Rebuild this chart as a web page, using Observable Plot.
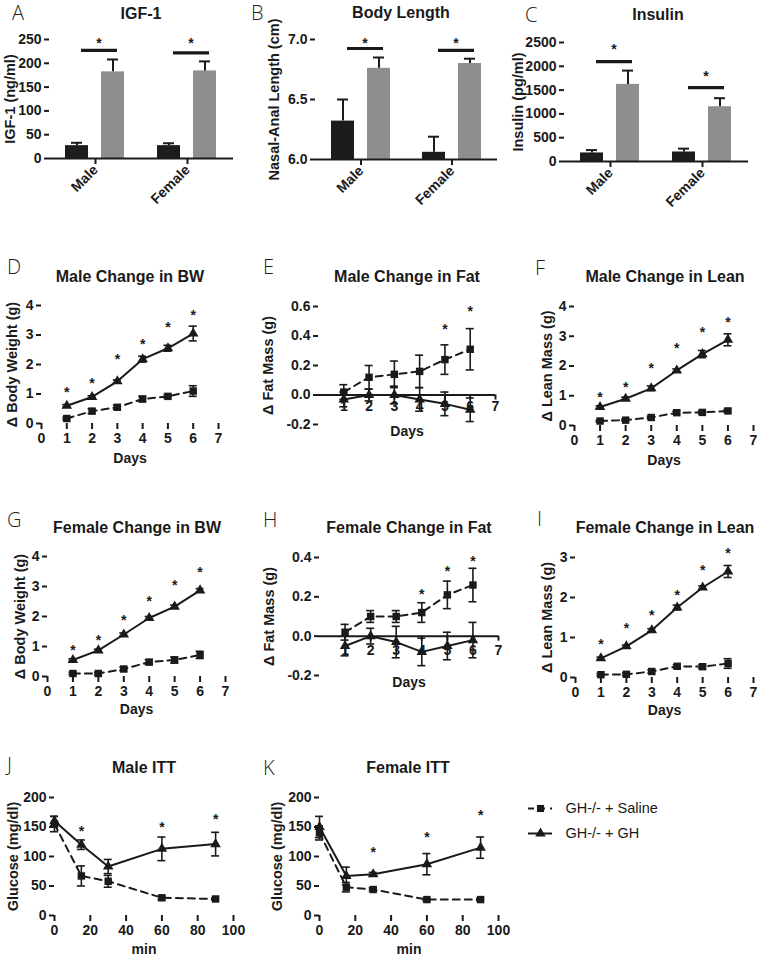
<!DOCTYPE html>
<html><head><meta charset="utf-8">
<script src="https://cdn.jsdelivr.net/npm/d3@7"></script>
<script src="https://cdn.jsdelivr.net/npm/@observablehq/plot@0.6"></script>
<style>
body{margin:0;background:#fff;}
#fig{position:relative;width:758px;height:960px;overflow:hidden;font-family:"Liberation Sans",Arial,sans-serif;color:#1a1a1a;background:#fff;}
.title{position:absolute;width:240px;text-align:center;font-weight:bold;font-size:16px;line-height:18px;white-space:nowrap;}
.letter{position:absolute;font-family:"Open Sans",sans-serif;font-weight:300;font-size:20px;line-height:18px;color:#222;}
</style></head><body><div id="fig"></div>
<script>
// ---------- categories ----------
const sexes = ["Male", "Female"];
const treatments = ["GH-/- + Saline", "GH-/- + GH"];
const barSex = ["Male", "Male", "Female", "Female"];
const barTreatment = [treatments[0], treatments[1], treatments[0], treatments[1]];

// ---------- A: IGF-1 ----------
const igf1Mean = [27, 182, 27, 184];
const igf1Sem = [6, 26, 5, 20];
const igf1SigLevel = [227, 222];
const igf1StarLevel = [258, 254];
const igf1Ticks = [0, 50, 100, 150, 200, 250];

// ---------- B: Body length ----------
const lengthMean = [6.32, 6.76, 6.06, 6.80];
const lengthSem = [0.18, 0.09, 0.13, 0.04];
const lengthSigLevel = [6.925, 6.91];
const lengthStarLevel = [7.05, 7.03];
const lengthTicks = [6.0, 6.5, 7.0];

// ---------- C: Insulin ----------
const insulinMean = [180, 1620, 200, 1150];
const insulinSem = [60, 290, 70, 180];
const insulinSigLevel = [2100, 1550];
const insulinStarLevel = [2440, 1870];
const insulinTicks = [0, 500, 1000, 1500, 2000, 2500];

// ---------- D-I: daily changes ----------
const days = [1, 2, 3, 4, 5, 6];
const dayTicks = [0, 1, 2, 3, 4, 5, 6, 7];
const dayTicksZero = [1, 2, 3, 4, 5, 6, 7];

const maleBWSaline = [0.17, 0.42, 0.55, 0.83, 0.92, 1.10];
const maleBWSalineErr = [0.04, 0.08, 0.07, 0.09, 0.06, 0.18];
const maleBWGH = [0.60, 0.90, 1.43, 2.18, 2.55, 3.05];
const maleBWGHErr = [0.04, 0.04, 0.05, 0.10, 0.10, 0.25];
const maleBWStars = [1.20, 1.50, 2.30, 2.82, 3.38, 3.80];

const maleFatSaline = [0.02, 0.12, 0.14, 0.16, 0.24, 0.31];
const maleFatSalineErr = [0.05, 0.08, 0.09, 0.11, 0.10, 0.14];
const maleFatGH = [-0.03, 0.00, 0.00, -0.03, -0.06, -0.10];
const maleFatGHErr = [0.05, 0.04, 0.06, 0.08, 0.08, 0.08];
const maleFatStars = [null, null, null, null, 0.47, 0.59];

const maleLeanSaline = [0.15, 0.18, 0.27, 0.43, 0.44, 0.49];
const maleLeanSalineErr = [0.03, 0.03, 0.04, 0.05, 0.05, 0.05];
const maleLeanGH = [0.62, 0.90, 1.25, 1.85, 2.40, 2.88];
const maleLeanGHErr = [0.04, 0.05, 0.08, 0.05, 0.12, 0.20];
const maleLeanStars = [1.08, 1.41, 2.05, 2.72, 3.26, 3.60];

const femBWSaline = [0.10, 0.10, 0.25, 0.48, 0.55, 0.72];
const femBWSalineErr = [0.04, 0.04, 0.06, 0.08, 0.10, 0.12];
const femBWGH = [0.55, 0.87, 1.40, 1.95, 2.33, 2.87];
const femBWGHErr = [0.04, 0.04, 0.05, 0.05, 0.05, 0.06];
const femBWStars = [1.00, 1.33, 2.00, 2.63, 3.17, 3.60];

const femFatSaline = [0.02, 0.10, 0.10, 0.12, 0.21, 0.26];
const femFatSalineErr = [0.04, 0.03, 0.03, 0.05, 0.07, 0.085];
const femFatGH = [-0.05, 0.00, -0.03, -0.08, -0.05, -0.02];
const femFatGHErr = [0.05, 0.04, 0.08, 0.07, 0.07, 0.09];
const femFatStars = [null, null, null, 0.23, 0.35, 0.40];

const femLeanSaline = [0.07, 0.08, 0.15, 0.28, 0.27, 0.35];
const femLeanSalineErr = [0.03, 0.03, 0.04, 0.04, 0.05, 0.12];
const femLeanGH = [0.48, 0.78, 1.18, 1.75, 2.25, 2.65];
const femLeanGHErr = [0.03, 0.03, 0.04, 0.06, 0.04, 0.15];
const femLeanStars = [0.93, 1.33, 1.65, 2.15, 2.78, 3.20];

// ---------- J-K: ITT ----------
const minutes = [0, 15, 30, 60, 90];
const minTicks = [0, 20, 40, 60, 80, 100];
const glucoseTicks = [0, 50, 100, 150, 200];
const maleITTSaline = [155, 67, 58, 30, 28];
const maleITTSalineErr = [13, 17, 10, 3, 2];
const maleITTGH = [160, 120, 83, 113, 121];
const maleITTGHErr = [8, 8, 12, 20, 20];
const maleITTStars = [null, 149, null, 156, 169];

const femITTSaline = [140, 48, 44, 27, 27];
const femITTSalineErr = [12, 8, 3, 2, 2];
const femITTGH = [150, 67, 70, 87, 115];
const femITTGHErr = [18, 15, 3, 18, 18];
const femITTStars = [null, null, 113, 139, 176];

// ---------- rendering ----------
const fig = document.getElementById("fig");
const ink = "#1a1a1a";
const baseStyle = {fontFamily: '"Liberation Sans", Arial, sans-serif', fontSize: "14px", fontWeight: "bold", color: ink, background: "transparent", overflow: "visible"};
const fmt1 = d => d.toFixed(1);
const fmt0 = d => String(d);

function place(el, left, top) {
  el.style.position = "absolute";
  el.style.left = left + "px";
  el.style.top = top + "px";
  fig.appendChild(el);
}
function addText(cls, txt, left, top) {
  const d = document.createElement("div");
  d.className = cls; d.textContent = txt;
  d.style.left = left + "px"; d.style.top = top + "px";
  fig.appendChild(d);
}

function barPlot(c) {
  const rows = barSex.map((s, i) => ({sex: s, trt: barTreatment[i], mean: c.mean[i], sem: c.sem[i]}));
  const sig = sexes.map((s, i) => ({sex: s, level: c.sig[i], star: c.star[i], a: treatments[0], b: treatments[1]}));
  return Plot.plot({
    width: c.w, height: 210,
    marginLeft: c.m[0], marginRight: c.m[1], marginTop: c.m[2], marginBottom: c.m[3],
    style: baseStyle,
    fx: {domain: sexes, padding: 0, label: null},
    x: {domain: treatments, paddingInner: 0.35, paddingOuter: 0.42, axis: null},
    y: {domain: c.domain, clamp: true, axis: null},
    color: {domain: treatments, range: ["#1c1c1c", "#8e8e8e"]},
    marks: [
      Plot.barY(rows, {fx: "sex", x: "trt", y1: c.domain[0], y2: "mean", fill: "trt"}),
      Plot.ruleX(rows, {fx: "sex", x: "trt", y1: "mean", y2: d => d.mean + d.sem, stroke: ink, strokeWidth: 2}),
      Plot.tickY(rows, {fx: "sex", x: "trt", y: d => d.mean + d.sem, insetLeft: 6, insetRight: 6, stroke: ink, strokeWidth: 2}),
      Plot.link(sig, {fx: "sex", x1: "a", x2: "b", y1: "level", y2: "level", stroke: ink, strokeWidth: 3.2, dx: 4}),
      Plot.text(sig, {fx: "sex", x: "a", y: "star", text: () => "*", dx: 22, dy: 4, fontSize: 14}),
      Plot.ruleY([c.domain[0]], {stroke: ink, strokeWidth: 2}),
      Plot.axisY({ticks: c.ticks, tickFormat: c.fmt, tickSize: 5, tickPadding: 3, stroke: ink, strokeWidth: 2, line: true, label: null}),
      Plot.text([c.label], {fx: () => sexes[0], frameAnchor: "left", textAnchor: "middle", rotate: -90, dx: -c.labelDx, text: d => d, fontSize: 14.5}),
      Plot.axisFx({anchor: "bottom", tickSize: 6, tickPadding: 3, tickRotate: -45, stroke: ink, strokeWidth: 2, label: null})
    ]
  });
}

function linePlot(c) {
  const sal = c.x.map((x, i) => ({x, v: c.sal[i], e: c.salErr[i]}));
  const gh = c.x.map((x, i) => ({x, v: c.gh[i], e: c.ghErr[i]}));
  const all = sal.concat(gh);
  const stars = c.x.map((x, i) => ({x, y: c.stars[i]})).filter(d => d.y != null);
  const marks = [
    Plot.axisY({ticks: c.yTicks, tickFormat: c.yFmt, tickSize: 5, tickPadding: 3, stroke: ink, strokeWidth: 2, line: true, label: null}),
    Plot.text([c.yLabel], {frameAnchor: "left", textAnchor: "middle", rotate: -90, dx: -c.yLabelDx, text: d => d, fontSize: 14.5})
  ];
  if (c.zeroAxis) {
    marks.push(
      Plot.ruleY([0], {stroke: ink, strokeWidth: 2}),
      Plot.ruleX(c.xTicks, {x: d => d, y1: 0, y2: 0, insetBottom: -5, stroke: ink, strokeWidth: 2}),
      Plot.text(c.xTicks, {x: d => d, y: 0, text: d => String(d), dy: c.zeroLabelDy}),
      Plot.text([c.xLabel], {frameAnchor: "bottom", text: d => d, dy: c.xLabelDy})
    );
  } else {
    marks.push(
      Plot.axisX({ticks: c.xTicks, tickFormat: fmt0, tickSize: 6, tickPadding: 4, stroke: ink, strokeWidth: 2, line: true, label: null}),
      Plot.text([c.xLabel], {frameAnchor: "bottom", text: d => d, dy: c.xLabelDy})
    );
  }
  marks.push(
    Plot.ruleX(all, {x: "x", y1: d => d.v - d.e, y2: d => d.v + d.e, stroke: ink, strokeWidth: 1.6}),
    Plot.ruleY(all, {x1: "x", x2: "x", y: d => d.v + d.e, insetLeft: -4, insetRight: -4, stroke: ink, strokeWidth: 1.6}),
    Plot.ruleY(all, {x1: "x", x2: "x", y: d => d.v - d.e, insetLeft: -4, insetRight: -4, stroke: ink, strokeWidth: 1.6}),
    Plot.line(sal, {x: "x", y: "v", stroke: ink, strokeWidth: 2, strokeDasharray: "7,5"}),
    Plot.line(gh, {x: "x", y: "v", stroke: ink, strokeWidth: 2}),
    Plot.dot(sal, {x: "x", y: "v", symbol: "square", r: 4.2, fill: ink}),
    Plot.dot(gh, {x: "x", y: "v", symbol: "triangle", r: 3.9, fill: ink}),
    Plot.text(stars, {x: "x", y: "y", text: () => "*", dy: 4, fontSize: 14})
  );
  return Plot.plot({
    width: c.w, height: c.h,
    marginLeft: c.m[0], marginRight: c.m[1], marginTop: c.m[2], marginBottom: c.m[3],
    style: baseStyle,
    x: {domain: c.xDomain, axis: null},
    y: {domain: c.yDomain, axis: null},
    marks
  });
}

// Row 1
place(barPlot({w: 250, m: [49, 17, 39, 52], mean: igf1Mean, sem: igf1Sem, sig: igf1SigLevel, star: igf1StarLevel,
  domain: [0, 250], ticks: igf1Ticks, fmt: fmt0, label: "IGF-1 (ng/ml)", labelDx: 39}), 0, 0);
place(barPlot({w: 250, m: [64, 3, 39, 51], mean: lengthMean, sem: lengthSem, sig: lengthSigLevel, star: lengthStarLevel,
  domain: [6, 7], ticks: lengthTicks, fmt: fmt1, label: "Nasal-Anal Length (cm)", labelDx: 41}), 250, 0);
place(barPlot({w: 258, m: [64, 10, 42, 49], mean: insulinMean, sem: insulinSem, sig: insulinSigLevel, star: insulinStarLevel,
  domain: [0, 2500], ticks: insulinTicks, fmt: fmt0, label: "Insulin (pg/ml)", labelDx: 46}), 500, 0);

// Row 2
const dayBase = {x: days, xDomain: [0, 7], xLabel: "Days", xLabelDy: 39, h: 185};
place(linePlot({...dayBase, w: 250, m: [41, 32, 15, 52], xTicks: dayTicks, yDomain: [0, 4], yTicks: [0, 1, 2, 3, 4], yFmt: fmt0,
  yLabel: "Δ Body Weight (g)", yLabelDx: 29, sal: maleBWSaline, salErr: maleBWSalineErr, gh: maleBWGH, ghErr: maleBWGHErr, stars: maleBWStars}), 0, 290);
place(linePlot({...dayBase, xLabelDy: 11, zeroLabelDy: 12, w: 250, m: [68, 5, 16, 51], zeroAxis: true, xTicks: dayTicksZero, yDomain: [-0.2, 0.6], yTicks: [-0.2, 0, 0.2, 0.4, 0.6], yFmt: fmt1,
  yLabel: "Δ Fat Mass (g)", yLabelDx: 50, sal: maleFatSaline, salErr: maleFatSalineErr, gh: maleFatGH, ghErr: maleFatGHErr, stars: maleFatStars}), 250, 290);
place(linePlot({...dayBase, w: 258, m: [74, 5, 16, 50], xTicks: dayTicks, yDomain: [0, 4], yTicks: [0, 1, 2, 3, 4], yFmt: fmt0,
  yLabel: "Δ Lean Mass (g)", yLabelDx: 27, sal: maleLeanSaline, salErr: maleLeanSalineErr, gh: maleLeanGH, ghErr: maleLeanGHErr, stars: maleLeanStars}), 500, 290);

// Row 3
place(linePlot({...dayBase, xLabelDy: 37, w: 250, m: [47, 25, 16, 49], xTicks: dayTicks, yDomain: [0, 4], yTicks: [0, 1, 2, 3, 4], yFmt: fmt0,
  yLabel: "Δ Body Weight (g)", yLabelDx: 27, sal: femBWSaline, salErr: femBWSalineErr, gh: femBWGH, ghErr: femBWGHErr, stars: femBWStars}), 0, 540);
place(linePlot({...dayBase, xLabelDy: 11, zeroLabelDy: 14, w: 250, m: [69, 2, 17, 50], zeroAxis: true, xTicks: dayTicksZero, yDomain: [-0.2, 0.4], yTicks: [-0.2, 0, 0.2, 0.4], yFmt: fmt1,
  yLabel: "Δ Fat Mass (g)", yLabelDx: 50, sal: femFatSaline, salErr: femFatSalineErr, gh: femFatGH, ghErr: femFatGHErr, stars: femFatStars}), 250, 540);
place(linePlot({...dayBase, xLabelDy: 37, w: 258, m: [75, 5, 17, 48], xTicks: dayTicks, yDomain: [0, 3], yTicks: [0, 1, 2, 3], yFmt: fmt0,
  yLabel: "Δ Lean Mass (g)", yLabelDx: 28, sal: femLeanSaline, salErr: femLeanSalineErr, gh: femLeanGH, ghErr: femLeanGHErr, stars: femLeanStars}), 500, 540);

// Row 4
const ittBase = {x: minutes, xDomain: [0, 100], xTicks: minTicks, xLabel: "min", xLabelDy: 38, h: 180,
  yDomain: [0, 200], yTicks: glucoseTicks, yFmt: fmt0, yLabel: "Glucose (mg/dl)"};
place(linePlot({...ittBase, w: 250, m: [54, 17, 17, 45], yLabelDx: 41,
  sal: maleITTSaline, salErr: maleITTSalineErr, gh: maleITTGH, ghErr: maleITTGHErr, stars: maleITTStars}), 0, 780);
place(linePlot({...ittBase, w: 250, m: [69, 2, 17, 45], yLabelDx: 42,
  sal: femITTSaline, salErr: femITTSalineErr, gh: femITTGH, ghErr: femITTGHErr, stars: femITTStars}), 250, 780);

// Legend
const legendRows = treatments.map(t => ({t}));
place(Plot.plot({
  width: 230, height: 50, marginLeft: 8, marginRight: 198, marginTop: 13, marginBottom: 12,
  style: {...baseStyle, fontWeight: "normal", fontSize: "14.5px"},
  x: {domain: [0, 1], axis: null},
  y: {type: "point", domain: treatments, padding: 0, axis: null},
  marks: [
    Plot.ruleY(legendRows.slice(0, 1), {y: "t", x1: 0, x2: 1, stroke: ink, strokeWidth: 2, strokeDasharray: "6,5"}),
    Plot.ruleY(legendRows.slice(1), {y: "t", x1: 0, x2: 1, stroke: ink, strokeWidth: 2}),
    Plot.dot(legendRows.slice(0, 1), {x: () => 0.5, y: "t", symbol: "square", r: 4, fill: ink}),
    Plot.dot(legendRows.slice(1), {x: () => 0.5, y: "t", symbol: "triangle", r: 3.9, fill: ink}),
    Plot.text(legendRows, {x: () => 1, y: "t", text: "t", textAnchor: "start", dx: 13})
  ]
}), 520, 795);

// Titles & panel letters
const titles = [
  ["IGF-1", 141, 14], ["Body Length", 401, 13], ["Insulin", 658, 15],
  ["Male Change in BW", 130, 277], ["Male Change in Fat", 407, 277], ["Male Change in Lean", 665, 277],
  ["Female Change in BW", 137, 528], ["Female Change in Fat", 409, 528], ["Female Change in Lean", 665, 528],
  ["Male ITT", 144, 768], ["Female ITT", 408, 768]
];
titles.forEach(([t, cx, cy]) => addText("title", t, cx - 120, cy - 9));
const letters = [
  ["A", 12, 13], ["B", 251, 13], ["C", 525, 15],
  ["D", 7, 267], ["E", 263, 267], ["F", 535, 268],
  ["G", 7, 520], ["H", 263, 520], ["I", 537, 519],
  ["J", 7, 765], ["K", 263, 768]
];
letters.forEach(([t, x, cy]) => addText("letter", t, x, cy - 9));
</script></body></html>
